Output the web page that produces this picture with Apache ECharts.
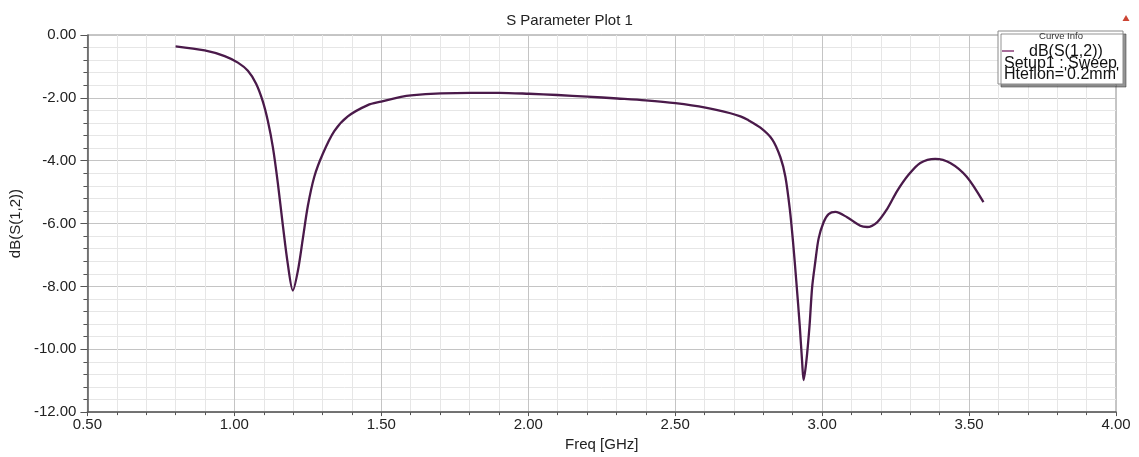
<!DOCTYPE html>
<html>
<head>
<meta charset="utf-8">
<script src="https://cdn.jsdelivr.net/npm/echarts@6/dist/echarts.min.js"></script>
<style>
  html, body { margin: 0; padding: 0; background: #ffffff; }
  #chart { width: 1139px; height: 457px; }
</style>
</head>
<body>
<div id="chart"></div>
<script>
// Swept frequency points (GHz) and the transmission response dB(S(1,2)) at each.
const freqGHz = [
  0.800, 0.899, 0.967, 1.012, 1.046, 1.074, 1.097, 1.114, 1.131, 1.148,
  1.165, 1.182, 1.199, 1.216, 1.233, 1.250, 1.272, 1.301, 1.340, 1.386,
  1.454, 1.499, 1.567, 1.601, 1.703, 1.805, 1.901, 2.003, 2.099, 2.201,
  2.303, 2.399, 2.501, 2.603, 2.688, 2.722, 2.745, 2.790, 2.830, 2.858,
  2.875, 2.890, 2.901, 2.912, 2.924, 2.932, 2.937, 2.946, 2.957, 2.966,
  2.977, 2.988, 3.005, 3.022, 3.045, 3.085, 3.130, 3.153, 3.187, 3.221,
  3.255, 3.294, 3.334, 3.385, 3.436, 3.492, 3.549
];
const s12dB = [
  -0.36, -0.49, -0.67, -0.88, -1.14, -1.55, -2.12, -2.74, -3.57, -4.72,
  -6.06, -7.30, -8.13, -7.51, -6.48, -5.44, -4.51, -3.78, -3.06, -2.59,
  -2.23, -2.12, -1.97, -1.92, -1.86, -1.84, -1.84, -1.87, -1.91, -1.96,
  -2.02, -2.08, -2.17, -2.31, -2.49, -2.59, -2.69, -2.95, -3.32, -3.89,
  -4.51, -5.54, -6.58, -7.82, -9.27, -10.41, -10.98, -10.41, -9.27, -8.03,
  -7.20, -6.48, -5.96, -5.70, -5.63, -5.80, -6.07, -6.11, -5.96, -5.54,
  -4.97, -4.45, -4.07, -3.94, -4.07, -4.51, -5.32
];

const seriesName = 'dB(S(1,2))';
const curveInfoLines = ['Setup1 : Sweep', "Hteflon='0.2mm'"];

const FONT = '"Liberation Sans", Arial, sans-serif';
const CURVE = '#4a1a4a';

const chart = echarts.init(document.getElementById('chart'), null, { renderer: 'canvas' });

chart.setOption({
  animation: false,
  backgroundColor: '#ffffff',
  title: {
    text: 'S Parameter Plot 1',
    left: 'center',
    top: 8,
    textStyle: { fontFamily: FONT, fontSize: 15, fontWeight: 'normal', color: '#222' }
  },
  grid: {
    left: 86, right: 23, top: 35, bottom: 34,
    show: true, borderColor: '#8c8c8c', borderWidth: 1, backgroundColor: 'transparent'
  },
  xAxis: {
    type: 'value',
    min: 0.5, max: 4.0, interval: 0.5,
    name: 'Freq [GHz]',
    nameLocation: 'middle',
    nameGap: 13,
    nameTextStyle: { fontFamily: FONT, fontSize: 15, color: '#222', verticalAlign: 'top' },
    axisLine: { show: true, onZero: false, lineStyle: { color: '#555', width: 1.5 } },
    axisTick: { show: true, length: 4, lineStyle: { color: '#555' } },
    minorTick: { show: true, splitNumber: 5, length: 3, lineStyle: { color: '#555' } },
    axisLabel: {
      margin: 5, fontFamily: FONT, fontSize: 15, color: '#222',
      formatter: v => v.toFixed(2)
    },
    splitLine: { show: true, lineStyle: { color: '#c4c4c4', width: 1 } },
    minorSplitLine: { show: true, lineStyle: { color: '#e6e6e6', width: 1 } }
  },
  yAxis: {
    type: 'value',
    min: -12, max: 0, interval: 2,
    name: 'dB(S(1,2))',
    nameLocation: 'middle',
    nameGap: 48,
    nameTextStyle: { fontFamily: FONT, fontSize: 15, color: '#222' },
    axisLine: { show: true, onZero: false, lineStyle: { color: '#555', width: 1.5 } },
    axisTick: { show: true, length: 7, lineStyle: { color: '#555' } },
    minorTick: { show: true, splitNumber: 5, length: 4, lineStyle: { color: '#555' } },
    axisLabel: {
      margin: 11, fontFamily: FONT, fontSize: 15, color: '#222',
      formatter: v => v.toFixed(2)
    },
    splitLine: { show: true, lineStyle: { color: '#c4c4c4', width: 1 } },
    minorSplitLine: { show: true, lineStyle: { color: '#e6e6e6', width: 1 } }
  },
  series: [{
    name: seriesName,
    type: 'line',
    data: freqGHz.map((f, i) => [f, s12dB[i]]),
    showSymbol: false,
    smooth: 0.3,
    lineStyle: { color: CURVE, width: 2.3 },
    itemStyle: { color: CURVE },
    z: 3
  }],
  graphic: [
    {
      type: 'rect', z: 10,
      shape: { x: 998, y: 31, width: 125, height: 53 },
      style: {
        fill: '#ffffff', stroke: '#8a8a8a', lineWidth: 1,
        shadowColor: 'rgba(60,60,60,0.55)', shadowOffsetX: 3, shadowOffsetY: 3, shadowBlur: 0
      }
    },
    {
      type: 'text', z: 11, x: 1061, y: 36,
      style: { text: 'Curve Info', font: '9.5px ' + FONT, fill: '#333', align: 'center', verticalAlign: 'middle' }
    },
    {
      type: 'line', z: 11,
      shape: { x1: 1002, y1: 51, x2: 1014, y2: 51 },
      style: { stroke: '#8a3d78', lineWidth: 1.5 }
    },
    {
      type: 'text', z: 11, x: 1029, y: 52,
      style: { text: seriesName, font: '16px ' + FONT, fill: '#111', align: 'left', verticalAlign: 'middle' }
    },
    {
      type: 'text', z: 11, x: 1004, y: 63.5,
      style: { text: curveInfoLines[0], font: '16px ' + FONT, fill: '#111', align: 'left', verticalAlign: 'middle' }
    },
    {
      type: 'text', z: 11, x: 1004, y: 74.5,
      style: { text: curveInfoLines[1], font: '16px ' + FONT, fill: '#111', align: 'left', verticalAlign: 'middle' }
    },
    {
      type: 'polygon', z: 11,
      shape: { points: [[1122.5, 21], [1129.5, 21], [1126, 15]] },
      style: { fill: '#cc4433' }
    }
  ]
});
</script>
</body>
</html>
